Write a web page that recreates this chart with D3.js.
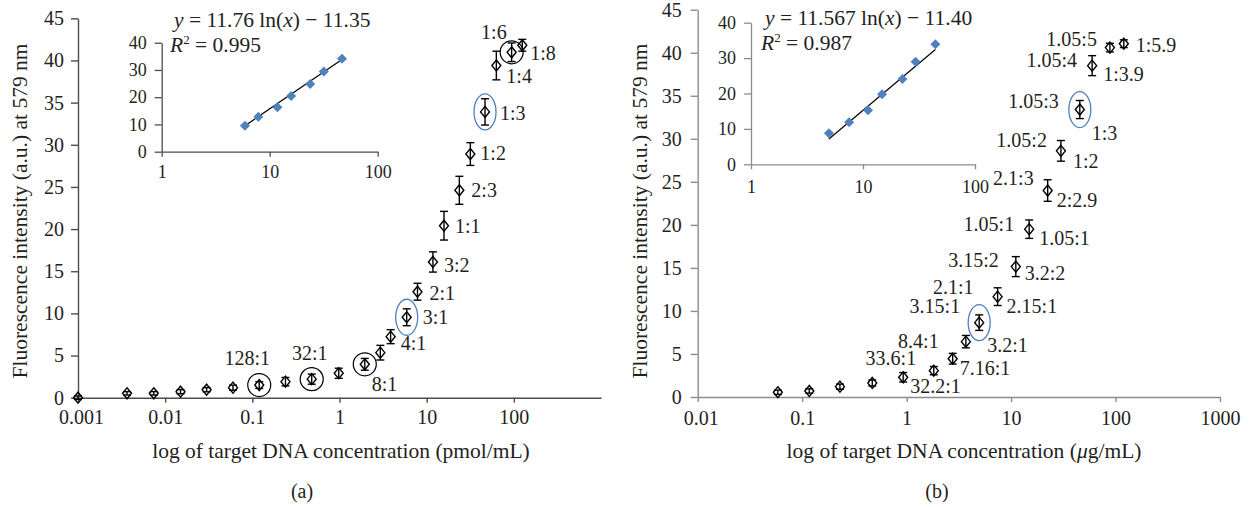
<!DOCTYPE html>
<html>
<head>
<meta charset="utf-8">
<script src="https://cdn.jsdelivr.net/npm/d3@7"></script>
<style>
  body { margin: 0; background: #fff; }
  svg text { font-family: "Liberation Serif", "Times New Roman", serif; fill: #231f20; }
</style>
</head>
<body>
<svg id="fig" width="1255" height="507"></svg>
<script>
// ---- panel (a): pmol/mL ----
var concA  = [0.001, 0.00365, 0.0074, 0.015, 0.0299, 0.060, 0.12, 0.24, 0.48, 0.98, 1.95, 2.94, 3.86, 5.9, 7.85, 11.8, 15.8, 23.7, 31.7, 46.7, 63, 94.4, 125];
var fluorA = [0, 0.52, 0.52, 0.71, 0.95, 1.19, 1.5, 1.9, 2.2, 2.9, 3.96, 5.34, 7.24, 9.54, 12.57, 16.1, 20.4, 24.6, 28.9, 33.9, 39.4, 40.97, 41.8];
var errA   = [0.2, 0.2, 0.2, 0.25, 0.25, 0.3, 0.4, 0.5, 0.6, 0.6, 0.7, 0.87, 0.83, 1.0, 1.0, 1.2, 1.7, 1.66, 1.35, 1.56, 1.7, 1.1, 0.7];
var labelsA = [[6, "128:1"], [8, "32:1"], [10, "8:1"], [12, "4:1"], [13, "3:1"], [14, "2:1"], [15, "3:2"], [16, "1:1"],
               [17, "2:3"], [18, "1:2"], [19, "1:3"], [20, "1:4"], [21, "1:6"], [22, "1:8"]];
var circledA = [6, 8, 10, 21];
var ovalA = [13, 19];
var insetConcA  = [5.9, 7.85, 11.8, 15.8, 23.7, 31.7, 46.7];
var insetFluorA = [9.5, 12.8, 16.3, 20.4, 24.8, 29.4, 34.1];
var trendA = [11.76, -11.35, "0.995"];
var xTicksA = [0.001, 0.01, 0.1, 1, 10, 100];

// ---- panel (b): ug/mL ----
var concB  = [0.0585, 0.117, 0.23, 0.469, 0.927, 1.82, 2.76, 3.69, 4.95, 7.43, 11.1, 14.9, 22.4, 30, 45.5, 59.7, 88.3, 120];
var fluorB = [0.55, 0.7, 1.2, 1.63, 2.29, 3.06, 4.45, 6.43, 8.64, 11.66, 15.15, 19.5, 23.99, 28.6, 33.4, 38.5, 40.6, 41.05];
var errB   = [0.25, 0.25, 0.3, 0.35, 0.55, 0.48, 0.62, 0.72, 0.9, 1.03, 1.16, 1.07, 1.25, 1.2, 1.05, 1.16, 0.5, 0.45];
var labelsB = [[4, "33.6:1"], [4, "32.2:1"], [6, "8.4:1"], [6, "7.16:1"], [8, "3.15:1"], [8, "3.2:1"],
               [9, "2.1:1"], [9, "2.15:1"], [10, "3.15:2"], [10, "3.2:2"], [11, "1.05:1"], [11, "1.05:1"],
               [12, "2.1:3"], [12, "2:2.9"], [13, "1.05:2"], [13, "1:2"], [14, "1.05:3"], [14, "1:3"],
               [15, "1.05:4"], [15, "1:3.9"], [16, "1.05:5"], [17, "1:5.9"]];
var circledB = [];
var ovalB = [8, 14];
var insetConcB  = [4.96, 7.52, 11.1, 14.8, 22.5, 29.5, 44.3];
var insetFluorB = [8.76, 11.86, 15.3, 19.8, 24.1, 29, 33.9];
var trendB = [11.567, -11.40, "0.987"];
var xTicksB = [0.01, 0.1, 1, 10, 100, 1000];

var yTicks = [0, 5, 10, 15, 20, 25, 30, 35, 40, 45];
var insetYTicks = [0, 10, 20, 30, 40];
var insetXTicks = [1, 10, 100];

// label placement (dx, dy, anchor) relative to the point
var placeA = [[-12, -20, "middle"], [-2, -19, "middle"], [7, 27, "start"], [10, 13, "start"], [16, 7, "start"],
              [12, 8, "start"], [11, 10, "start"], [11, 7, "start"], [12, 7, "start"], [10, 6, "start"],
              [15, 8, "start"], [10, 17, "start"], [-5, -13, "end"], [8, 15, "start"]];
var placeB = [[13, -12, "end"], [7, 16, "start"], [-14, -11, "end"], [7, 16, "start"], [-19, -10, "end"], [8, 29, "start"],
              [-24, -3, "end"], [9, 16, "start"], [-17, 0, "end"], [9, 13, "start"], [-15, 2, "end"], [10, 16, "start"],
              [-14, -6, "end"], [9, 16, "start"], [-14, -4, "end"], [12, 17, "start"], [-21, -2, "end"], [12, 30, "start"],
              [-15, 1, "end"], [11, 15, "start"], [-13, -2, "end"], [12, 8, "start"]];

var svg = d3.select("#fig");
var diamond = "M0,-5.5L4.5,0L0,5.5L-4.5,0Z";
var blueMark = "M0,-5L5,0L0,5L-5,0Z";

function drawPanel(p) {
  var x = d3.scaleLog().domain(p.xDomain).range([p.left, p.right]);
  var y = d3.scaleLinear().domain([0, 45]).range([p.bottom, p.top]);
  var g = svg.append("g");

  var xa = g.append("g").attr("transform", "translate(0," + p.bottom + ")")
    .call(d3.axisBottom(x).tickValues(p.xTicks).tickFormat(function(d){ return String(d); })
      .tickSize(5).tickSizeOuter(0).tickPadding(p.xPad));
  var ya = g.append("g").attr("transform", "translate(" + p.left + ",0)")
    .call(d3.axisLeft(y).tickValues(yTicks).tickSize(7).tickSizeOuter(0).tickPadding(p.yPad));
  [xa, ya].forEach(function(a){
    a.selectAll("path,line").attr("stroke", p.axisColor).attr("stroke-width", 1.4);
    a.selectAll("text").attr("font-size", 20).attr("font-family", null);
  });
  // first x label sits a bit right of the corner, clear of the "0"
  xa.select(".tick text").attr("dx", 3);

  // inset
  var xi = d3.scaleLog().domain([1, 100]).range([p.inset[0], p.inset[1]]);
  var yi = d3.scaleLinear().domain([0, 40]).range([p.inset[2], p.inset[3]]);
  var ix = g.append("g").attr("transform", "translate(0," + p.inset[2] + ")")
    .call(d3.axisBottom(xi).tickValues(insetXTicks).tickFormat(function(d){ return String(d); })
      .tickSize(5).tickSizeOuter(0).tickPadding(p.insetXPad));
  var iy = g.append("g").attr("transform", "translate(" + p.inset[0] + ",0)")
    .call(d3.axisLeft(yi).tickValues(insetYTicks).tickSize(7).tickSizeOuter(0).tickPadding(8));
  [ix, iy].forEach(function(a){
    a.selectAll("path,line").attr("stroke", p.axisColor).attr("stroke-width", 1.3);
    a.selectAll("text").attr("font-size", 18).attr("font-family", null);
  });
  var ext = d3.extent(p.insetConc);
  g.append("line")
    .attr("x1", xi(ext[0])).attr("y1", yi(p.trend[0] * Math.log(ext[0]) + p.trend[1]))
    .attr("x2", xi(ext[1])).attr("y2", yi(p.trend[0] * Math.log(ext[1]) + p.trend[1]))
    .attr("stroke", "#000").attr("stroke-width", 1.2);
  g.selectAll(null).data(p.insetConc).enter().append("path")
    .attr("d", blueMark).attr("fill", "#4f81bd")
    .attr("transform", function(d, i){ return "translate(" + xi(d) + "," + yi(p.insetFluor[i]) + ")"; });

  var eq = g.append("text").attr("x", p.eqX).attr("y", p.eqY).attr("font-size", 21.5);
  eq.append("tspan").attr("font-style", "italic").text("y");
  eq.append("tspan").text(" = " + p.trend[0] + " ln(");
  eq.append("tspan").attr("font-style", "italic").text("x");
  eq.append("tspan").text(") \u2212 " + Math.abs(p.trend[1]).toFixed(2));
  var r2 = g.append("text").attr("x", p.eqX - 4).attr("y", p.eqY + 25).attr("font-size", 21.5);
  r2.append("tspan").attr("font-style", "italic").text("R");
  r2.append("tspan").attr("font-size", 13).attr("dy", -8).text("2");
  r2.append("tspan").attr("dy", 8).text(" = " + p.trend[2]);

  // error bars
  var eb = g.selectAll(".eb").data(p.conc).enter().append("g")
    .attr("transform", function(d){ return "translate(" + x(d) + ",0)"; });
  eb.append("line").attr("y1", function(d, i){ return y(p.fluor[i] - p.err[i]); })
    .attr("y2", function(d, i){ return y(p.fluor[i] + p.err[i]); });
  eb.append("line").attr("x1", -4).attr("x2", 4)
    .attr("y1", function(d, i){ return y(p.fluor[i] - p.err[i]); })
    .attr("y2", function(d, i){ return y(p.fluor[i] - p.err[i]); });
  eb.append("line").attr("x1", -4).attr("x2", 4)
    .attr("y1", function(d, i){ return y(p.fluor[i] + p.err[i]); })
    .attr("y2", function(d, i){ return y(p.fluor[i] + p.err[i]); });
  eb.selectAll("line").attr("stroke", "#000").attr("stroke-width", 1.4);

  g.selectAll(".pt").data(p.conc).enter().append("path")
    .attr("d", diamond).attr("fill", "none").attr("stroke", "#000").attr("stroke-width", 1.4)
    .attr("transform", function(d, i){ return "translate(" + x(d) + "," + y(p.fluor[i]) + ")"; });

  g.selectAll(".circ").data(p.circled).enter().append("circle")
    .attr("cx", function(i){ return x(p.conc[i]); }).attr("cy", function(i){ return y(p.fluor[i]); })
    .attr("r", 11.5).attr("fill", "none").attr("stroke", "#000").attr("stroke-width", 1.2);
  g.selectAll(".oval").data(p.oval).enter().append("ellipse")
    .attr("cx", function(i){ return x(p.conc[i]); }).attr("cy", function(i){ return y(p.fluor[i]); })
    .attr("rx", 11).attr("ry", 18).attr("fill", "none").attr("stroke", "#4f7fbf").attr("stroke-width", 1.3);

  g.selectAll(".lab").data(p.labels).enter().append("text")
    .attr("font-size", 20)
    .attr("x", function(d, k){ return x(p.conc[d[0]]) + p.place[k][0]; })
    .attr("y", function(d, k){ return y(p.fluor[d[0]]) + p.place[k][1]; })
    .attr("text-anchor", function(d, k){ return p.place[k][2]; })
    .text(function(d){ return d[1]; });

  // titles
  g.append("text").attr("transform", "translate(" + p.yTitleX + ",211) rotate(-90)")
    .attr("text-anchor", "middle").attr("font-size", 21.5).text("Fluorescence intensity (a.u.) at 579 nm");
  var xt = g.append("text").attr("x", p.xTitleX).attr("y", 458).attr("text-anchor", "middle").attr("font-size", 21.5);
  xt.append("tspan").text("log of target DNA concentration (");
  if (p.unitItalic) xt.append("tspan").attr("font-style", "italic").text(p.unitItalic);
  xt.append("tspan").text(p.unit + ")");
  g.append("text").attr("x", p.capX).attr("y", 498).attr("text-anchor", "middle").attr("font-size", 20).text(p.cap);
}

drawPanel({
  conc: concA, fluor: fluorA, err: errA, labels: labelsA, place: placeA, circled: circledA, oval: ovalA,
  insetConc: insetConcA, insetFluor: insetFluorA, trend: trendA, xTicks: xTicksA,
  xDomain: [0.001, 1000], left: 78, right: 601, top: 18.3, bottom: 397.7, xPad: 7, yPad: 7, axisColor: "#4d4d4d",
  inset: [161.7, 377.7, 151.7, 42.7], insetXPad: 9, eqX: 174, eqY: 27,
  yTitleX: 27, xTitleX: 341, unit: "pmol/mL", unitItalic: null, capX: 302, cap: "(a)"
});
drawPanel({
  conc: concB, fluor: fluorB, err: errB, labels: labelsB, place: placeB, circled: circledB, oval: ovalB,
  insetConc: insetConcB, insetFluor: insetFluorB, trend: trendB, xTicks: xTicksB,
  xDomain: [0.01, 1000], left: 697.7, right: 1220, top: 9.7, bottom: 397, xPad: 9, yPad: 9, axisColor: "#8c8c8c",
  inset: [751, 975, 164.3, 22.7], insetXPad: 11, eqX: 765, eqY: 25,
  yTitleX: 647, xTitleX: 964, unit: "g/mL", unitItalic: "\u03bc", capX: 937, cap: "(b)"
});
</script>
</body>
</html>
